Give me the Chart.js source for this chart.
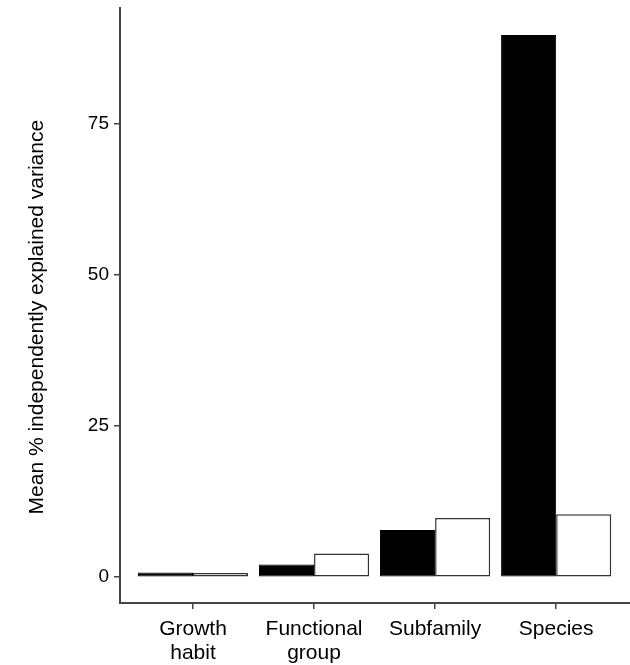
<!DOCTYPE html>
<html>
<head>
<meta charset="utf-8">
<script src="https://cdn.jsdelivr.net/npm/chart.js@4"></script>
<style>
  body { margin: 0; background: #fff; }
  #wrap { width: 630px; height: 665px; position: relative; }
</style>
</head>
<body>
<div id="wrap"><canvas id="chart"></canvas></div>
<script>
// values
let categories = [['Growth', 'habit'], ['Functional', 'group'], ['Subfamily'], ['Species']];
let blackValues = [0.8, 2.1, 7.8, 89.6];
let whiteValues = [0.7, 3.9, 9.8, 10.4];
let yTicks = [0, 25, 50, 75];

let axisColor = '#444';
let family = '"Liberation Sans", Arial, sans-serif';

let ctx = document.getElementById('chart');
let chart = new Chart(ctx, {
    type: 'bar',
    data: {
        datasets: [{
            data: blackValues.map((v, i) => ({ x: i + 1, y: v })),
            backgroundColor: '#000',
            borderColor: '#000',
            borderWidth: 1,
            borderSkipped: false
        }, {
            data: whiteValues.map((v, i) => ({ x: i + 1, y: v })),
            backgroundColor: '#fff',
            borderColor: '#333',
            borderWidth: 1.5,
            borderSkipped: false
        }]
    },
    options: {
        responsive: true,
        maintainAspectRatio: false,
        animation: false,
        layout: { padding: { top: 8, right: 0, left: 0, bottom: 0 } },
        datasets: { bar: { categoryPercentage: 0.91, barPercentage: 1.0 } },
        plugins: { legend: { display: false }, tooltip: { enabled: false } },
        scales: {
            x: {
                type: 'linear',
                offset: false,
                min: 0.397,
                max: 4.61,
                afterBuildTicks: s => { s.ticks = categories.map((c, i) => ({ value: i + 1 })); },
                afterFit: s => { s.height = 62; s.paddingLeft = 0; s.paddingRight = 0; },
                grid: { offset: false, drawOnChartArea: false, drawTicks: true, tickLength: 6, color: axisColor, lineWidth: 1.5 },
                border: { color: axisColor, width: 2 },
                ticks: {
                    autoSkip: false,
                    maxRotation: 0,
                    color: '#000',
                    font: { family: family, size: 21, lineHeight: 1.143 },
                    padding: 8,
                    callback: v => categories[Math.round(v) - 1] || ''
                }
            },
            y: {
                min: -4.26,
                max: 94.05,
                afterBuildTicks: s => { s.ticks = yTicks.map(v => ({ value: v })); },
                afterFit: s => { s.width = 120; s.paddingTop = 0; s.paddingBottom = 0; },
                grid: { drawOnChartArea: false, drawTicks: true, tickLength: 6, color: axisColor, lineWidth: 1.5 },
                border: { color: axisColor, width: 2 },
                ticks: { color: '#000', font: { family: family, size: 19 }, padding: 5 },
                title: {
                    display: true,
                    // trailing spaces nudge the centred title down a little
                    text: 'Mean % independently explained variance    ',
                    color: '#000',
                    font: { family: family, size: 21 },
                    padding: { top: 25, bottom: 0 }
                }
            }
        }
    }
});
</script>
</body>
</html>
